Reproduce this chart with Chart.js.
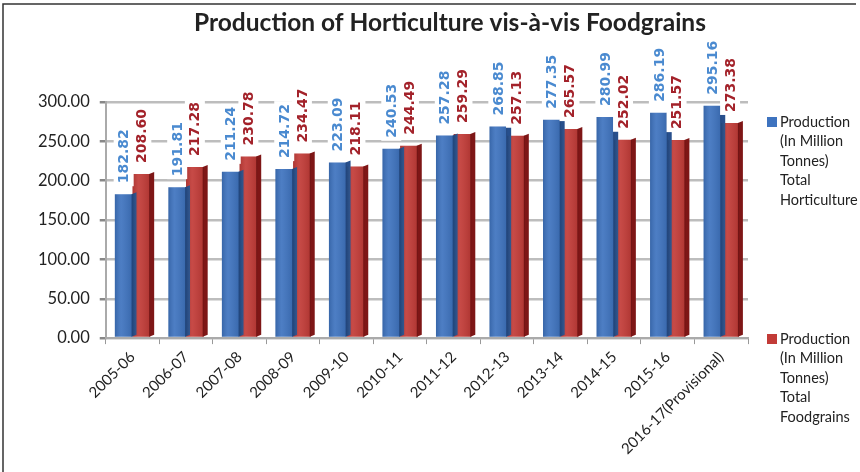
<!DOCTYPE html>
<html>
<head>
<meta charset="utf-8">
<title>Production of Horticulture vis-à-vis Foodgrains</title>
<script src="https://cdn.jsdelivr.net/npm/chart.js@4.4.1/dist/chart.umd.min.js"></script>
<style>
    html, body { margin: 0; padding: 0; background: #fff; }
    #wrap { position: relative; width: 860px; height: 472px; }
</style>
</head>
<body>
<div id="wrap"><canvas id="prodChart" width="860" height="472"></canvas></div>
<script>
// Datos
const years = ['2005-06', '2006-07', '2007-08', '2008-09', '2009-10', '2010-11',
    '2011-12', '2012-13', '2013-14', '2014-15', '2015-16', '2016-17(Provisional)'];
const horticulture = [182.82, 191.81, 211.24, 214.72, 223.09, 240.53,
    257.28, 268.85, 277.35, 280.99, 286.19, 295.16];
const foodgrains = [208.60, 217.28, 230.78, 234.47, 218.11, 244.49,
    259.29, 257.13, 265.57, 252.02, 251.57, 273.38];
const seriesNames = [
    'Production (In Million Tonnes) Total Horticulture',
    'Production (In Million Tonnes) Total Foodgrains'
];
const chartTitle = 'Production of Horticulture vis-à-vis Foodgrains';
const yMin = 0, yMax = 300, yStep = 50;

const blue = '#3e73bf', blueSide = '#274f8c', blueText = '#4a8ad0';
const red = '#c23b37', redSide = '#7e1616', redText = '#a3222a';

// Marco y título del gráfico
const framePlugin = {
    id: 'frame',
    beforeDraw(chart) {
        const ctx = chart.ctx;
        ctx.save();
        ctx.fillStyle = '#fff';
        ctx.fillRect(0, 0, chart.width, chart.height);
        ctx.strokeStyle = '#333';
        ctx.lineWidth = 1.5;
        ctx.beginPath();
        ctx.moveTo(3, chart.height);
        ctx.lineTo(3, 4);
        ctx.lineTo(856, 4);
        ctx.stroke();
        ctx.font = 'bold 24.5px Lato';
        ctx.fillStyle = '#222';
        ctx.textAlign = 'center';
        ctx.textBaseline = 'middle';
        ctx.fillText(chartTitle, 450, 23);
        ctx.restore();
    }
};

// Caras laterales para imitar las barras 3D
const depthPlugin = {
    id: 'depth',
    afterDatasetsDraw(chart) {
        const ctx = chart.ctx;
        const sides = [blueSide, redSide];
        ctx.save();
        chart.data.datasets.forEach((ds, i) => {
            chart.getDatasetMeta(i).data.forEach(bar => {
                const right = bar.x + bar.width / 2;
                const d = 5;
                ctx.fillStyle = sides[i];
                ctx.beginPath();
                ctx.moveTo(right - 1, bar.y);
                ctx.lineTo(right - 1 + d, bar.y - 2);
                ctx.lineTo(right - 1 + d, bar.base - 2);
                ctx.lineTo(right - 1, bar.base);
                ctx.closePath();
                ctx.fill();
                // brillo a la izquierda
                const g = ctx.createLinearGradient(bar.x - bar.width / 2, 0, right, 0);
                g.addColorStop(0, 'rgba(0,0,0,0.12)');
                g.addColorStop(0.35, 'rgba(255,255,255,0.08)');
                g.addColorStop(1, 'rgba(0,0,0,0.10)');
                ctx.fillStyle = g;
                ctx.fillRect(bar.x - bar.width / 2, bar.y, bar.width, bar.base - bar.y);
            });
        });
        ctx.restore();
    }
};

// Etiquetas verticales sobre cada barra
const valueLabels = {
    id: 'valueLabels',
    afterDatasetsDraw(chart) {
        const ctx = chart.ctx;
        const colors = [blueText, redText];
        ctx.save();
        ctx.font = 'bold 14px "DejaVu Sans"';
        ctx.textBaseline = 'middle';
        chart.data.labels.forEach((lab, idx) => {
            chart.data.datasets.forEach((ds, i) => {
                const bar = chart.getDatasetMeta(i).data[idx];
                const txt = ds.data[idx].toFixed(2);
                const w = ctx.measureText(txt).width;
                const bottom = bar.y - 11;
                ctx.save();
                ctx.translate(bar.x, bottom);
                ctx.rotate(-Math.PI / 2);
                ctx.fillStyle = '#fff';
                ctx.fillRect(-3, -10, w + 6, 20);
                ctx.fillStyle = colors[i];
                ctx.textAlign = 'left';
                ctx.fillText(txt, 0, 1);
                ctx.restore();
            });
        });
        ctx.restore();
    }
};

// Leyenda a la derecha con texto partido en varias líneas
const sideLegend = {
    id: 'sideLegend',
    afterDraw(chart) {
        const ctx = chart.ctx;
        const colors = [blue, red];
        const tops = [122, 339];
        ctx.save();
        ctx.font = '14.5px Lato';
        ctx.textBaseline = 'middle';
        ctx.textAlign = 'left';
        chart.data.datasets.forEach((ds, i) => {
            const words = ds.label.split(' ');
            const lines = [];
            let cur = '';
            words.forEach(wd => {
                const test = cur ? cur + ' ' + wd : wd;
                if (ctx.measureText(test).width > 78 && cur) {
                    lines.push(cur);
                    cur = wd;
                } else {
                    cur = test;
                }
            });
            lines.push(cur);
            ctx.fillStyle = colors[i];
            ctx.fillRect(767, tops[i] - 5, 10, 10);
            ctx.fillStyle = '#222';
            lines.forEach((ln, k) => ctx.fillText(ln, 780, tops[i] + k * 19.6));
        });
        ctx.restore();
    }
};

const ctx = document.getElementById('prodChart').getContext('2d');
const prodChart = new Chart(ctx, {
    type: 'bar',
    data: {
        labels: years,
        datasets: [{
            label: seriesNames[0],
            data: horticulture,
            backgroundColor: blue,
            borderWidth: 0,
        }, {
            label: seriesNames[1],
            data: foodgrains,
            backgroundColor: red,
            borderWidth: 0,
        }]
    },
    options: {
        responsive: false,
        animation: false,
        layout: {
            padding: { left: 28, right: 112, top: 102, bottom: 10 }
        },
        datasets: {
            bar: { categoryPercentage: 0.66, barPercentage: 1.0 }
        },
        scales: {
            x: {
                grid: { display: true, drawOnChartArea: false, tickLength: 6, color: '#999', offset: true },
                border: { color: '#aaa', width: 2 },
                ticks: {
                    font: { family: 'Lato', size: 15 },
                    color: '#222',
                    minRotation: 45,
                    maxRotation: 45,
                    autoSkip: false,
                    padding: 4
                }
            },
            y: {
                min: yMin,
                max: yMax,
                ticks: {
                    stepSize: yStep,
                    font: { family: 'Lato', size: 16.5 },
                    color: '#222',
                    padding: 10,
                    callback: v => v.toFixed(2)
                },
                grid: { color: '#bdbdbd', lineWidth: 2.5, tickLength: 6, tickColor: '#888' },
                border: { color: '#aaa', width: 2 }
            }
        },
        plugins: {
            legend: { display: false },
            tooltip: { enabled: false },
            title: { display: false }
        }
    },
    plugins: [framePlugin, depthPlugin, valueLabels, sideLegend]
});
</script>
</body>
</html>
